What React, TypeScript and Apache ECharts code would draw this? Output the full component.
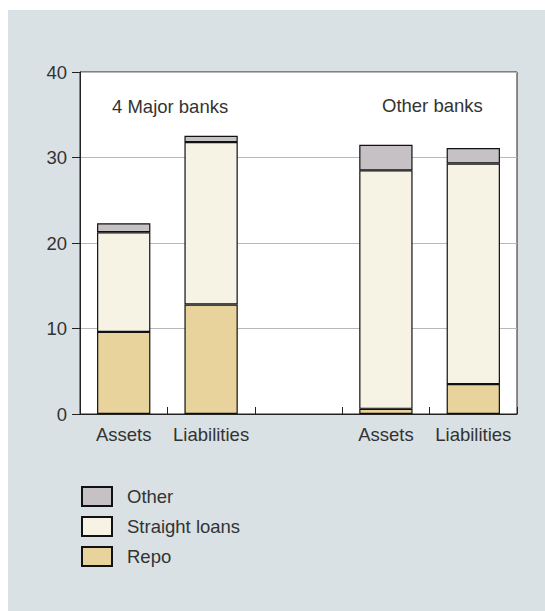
import React, { useEffect, useRef } from "react";
import * as echarts from "echarts";

const categories = ["Assets", "Liabilities", "", "Assets", "Liabilities"];
const repo = [9.6, 12.8, null, 0.6, 3.5];
const straightLoans = [11.65, 19.0, null, 27.9, 25.8];
const other = [1.05, 0.75, null, 3.0, 1.8];
const yTicks = [0, 10, 20, 30, 40];
const groupLabels = ["4 Major banks", "Other banks"];

const FONT = "Liberation Sans";

export default function App() {
  const ref = useRef<HTMLDivElement>(null);
  useEffect(() => {
    document.body.style.margin = "0";
    const chart = echarts.init(ref.current!, undefined, { renderer: "svg" });
    const barStyle = (color: string) => ({
      color,
      borderColor: "#111",
      borderWidth: 1.2,
    });
    chart.setOption({
      animation: false,
      backgroundColor: "#ffffff",
      textStyle: { fontFamily: FONT },
      graphic: [
        {
          type: "rect",
          z: -10,
          silent: true,
          shape: { x: 8, y: 10, width: 545, height: 611 },
          style: { fill: "#d9e1e4" },
        },
        {
          type: "text",
          left: 112,
          top: 97,
          style: { text: groupLabels[0], font: `18.5px ${FONT}`, fill: "#333" },
        },
        {
          type: "text",
          left: 382,
          top: 96,
          style: { text: groupLabels[1], font: `18.5px ${FONT}`, fill: "#333" },
        },
      ],
      grid: {
        left: 80,
        right: 28,
        top: 72,
        bottom: 197,
        show: true,
        backgroundColor: "#ffffff",
        borderColor: "#222",
        borderWidth: 1,
      },
      legend: {
        data: ["Other", "Straight loans", "Repo"],
        orient: "vertical",
        left: 76,
        top: 481,
        icon: "rect",
        itemWidth: 30,
        itemHeight: 19,
        itemGap: 9,
        selectedMode: false,
        textStyle: {
          fontFamily: FONT,
          fontSize: 18.5,
          lineHeight: 19,
          color: "#333",
          padding: [0, 0, 0, 10],
        },
      },
      xAxis: {
        type: "category",
        data: categories,
        axisLine: { lineStyle: { color: "#222", width: 1 } },
        axisTick: {
          show: true,
          inside: true,
          interval: 0,
          length: 7,
          lineStyle: { color: "#222", width: 1 },
        },
        axisLabel: {
          interval: 0,
          fontSize: 18.5,
          color: "#333",
          margin: 11,
          fontFamily: FONT,
        },
        splitLine: { show: false },
      },
      yAxis: {
        type: "value",
        min: 0,
        max: 40,
        interval: 10,
        axisLine: { show: true, lineStyle: { color: "#222", width: 1 } },
        axisTick: { show: true, length: 8, lineStyle: { color: "#222" } },
        axisLabel: {
          fontSize: 18.5,
          color: "#333",
          margin: 13,
          fontFamily: FONT,
          formatter: (v: number) => (yTicks.includes(v) ? String(v) : ""),
        },
        splitLine: { lineStyle: { color: "#b8b8b8", width: 1 } },
      },
      series: [
        {
          name: "Repo",
          type: "bar",
          stack: "total",
          barWidth: "61%",
          data: repo,
          itemStyle: barStyle("#e8d39c"),
        },
        {
          name: "Straight loans",
          type: "bar",
          stack: "total",
          barWidth: "61%",
          data: straightLoans,
          itemStyle: barStyle("#f6f2e4"),
        },
        {
          name: "Other",
          type: "bar",
          stack: "total",
          barWidth: "61%",
          data: other,
          itemStyle: barStyle("#c6c1c5"),
        },
      ],
    });
    return () => chart.dispose();
  }, []);
  return <div ref={ref} style={{ width: 545, height: 611 }} />;
}
